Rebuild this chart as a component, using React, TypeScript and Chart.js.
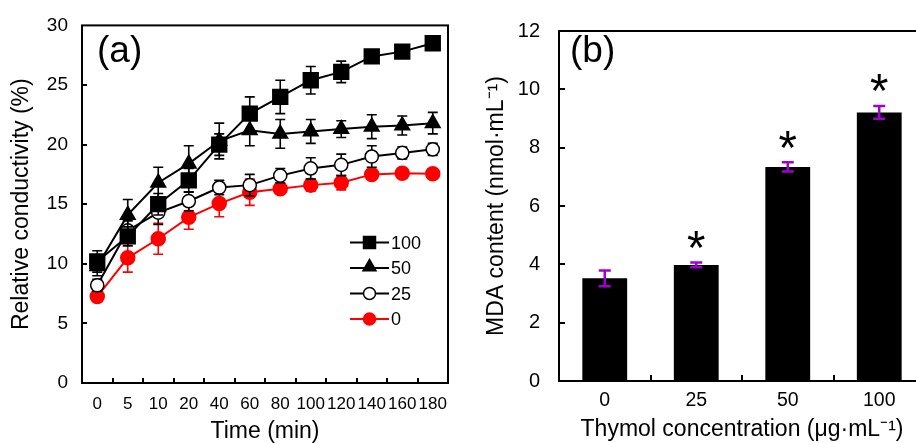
import React, { useEffect, useRef } from 'react';
import { Chart, registerables } from 'chart.js';

Chart.register(...registerables);

const FONT = "'Liberation Sans', Arial, Helvetica, sans-serif";

// ---------- Panel (a) data ----------
const timeLabels = ['0', '5', '10', '20', '40', '60', '80', '100', '120', '140', '160', '180'];
const cond100 = [10.2, 12.3, 15.0, 17.0, 20.0, 22.6, 24.0, 25.4, 26.1, 27.4, 27.8, 28.5];
const err100 = [0.9, 0.8, 0.9, 1.0, 0.9, 1.4, 1.4, 1.15, 0.9, 0.4, 0.4, 0.3];
const cond50 = [9.8, 14.1, 16.8, 18.4, 20.3, 21.2, 20.9, 21.1, 21.3, 21.5, 21.6, 21.8];
const err50 = [0.8, 1.3, 1.3, 1.5, 1.5, 1.3, 1.2, 1.0, 0.7, 1.0, 0.8, 0.9];
const cond25 = [8.2, 12.8, 14.3, 15.25, 16.4, 16.6, 17.4, 18.0, 18.3, 19.0, 19.3, 19.6];
const err25 = [0.5, 0.8, 1.0, 0.8, 0.6, 0.9, 0.6, 0.9, 0.9, 0.9, 0.5, 0.5];
const cond0 = [7.25, 10.5, 12.1, 13.9, 15.05, 16.0, 16.3, 16.6, 16.8, 17.5, 17.6, 17.55];
const err0 = [0.4, 1.2, 1.3, 1.0, 1.1, 1.1, 0.4, 0.5, 0.6, 0.4, 0.4, 0.4];
const seriesNames = ['100', '50', '25', '0'];
const condTicksMax = 30;
const condTickStep = 5;

// ---------- Panel (b) data ----------
const doseLabels = ['0', '25', '50', '100'];
const mdaValues = [3.52, 3.98, 7.34, 9.21];
const mdaErrors = [0.27, 0.08, 0.16, 0.22];
const mdaSignif = ['', '*', '*', '*'];
const mdaTicksMax = 12;
const mdaTickStep = 2;

function drawMarker(ctx: CanvasRenderingContext2D, style: string, x: number, y: number, r: number, fill: string, stroke: string, lw: number) {
  ctx.beginPath();
  if (style === 'rect') {
    ctx.rect(x - r, y - r, 2 * r, 2 * r);
  } else if (style === 'triangle') {
    ctx.moveTo(x, y - r);
    ctx.lineTo(x + r * 0.866, y + r * 0.5);
    ctx.lineTo(x - r * 0.866, y + r * 0.5);
    ctx.closePath();
  } else {
    ctx.arc(x, y, r, 0, Math.PI * 2);
  }
  ctx.fillStyle = fill;
  ctx.fill();
  ctx.lineWidth = lw;
  ctx.strokeStyle = stroke;
  ctx.stroke();
}

function drawCenteredText(ctx: CanvasRenderingContext2D, text: string, x: number, cy: number, align: CanvasTextAlign) {
  ctx.textAlign = align;
  ctx.textBaseline = 'alphabetic';
  const m = ctx.measureText(text);
  const base = cy + (m.actualBoundingBoxAscent - m.actualBoundingBoxDescent) / 2;
  ctx.fillText(text, x, base);
}

function frameAndTicks(tickLen: number) {
  return {
    id: 'frameAndTicks',
    afterDatasetsDraw(chart: any) {
      const { ctx, chartArea } = chart;
      const xs = chart.scales.x;
      const ys = chart.scales.y;
      ctx.save();
      ctx.strokeStyle = '#000';
      ctx.lineWidth = 2;
      ctx.lineCap = 'butt';
      ys.ticks.forEach((t: any, i: number) => {
        if (i === 0 || i === ys.ticks.length - 1) return;
        const py = Math.round(ys.getPixelForValue(t.value));
        ctx.beginPath();
        ctx.moveTo(chartArea.left, py);
        ctx.lineTo(chartArea.left + tickLen, py);
        ctx.stroke();
      });
      const n = xs.getLabels().length;
      for (let i = 0; i < n - 1; i++) {
        const px = Math.round((xs.getPixelForValue(i) + xs.getPixelForValue(i + 1)) / 2);
        ctx.beginPath();
        ctx.moveTo(px, chartArea.bottom);
        ctx.lineTo(px, chartArea.bottom - tickLen);
        ctx.stroke();
      }
      ctx.strokeRect(chartArea.left, chartArea.top, chartArea.right - chartArea.left, chartArea.bottom - chartArea.top);
      ctx.restore();
    },
  };
}

function panelLabel(text: string, dx: number, cy: number, size: number) {
  return {
    id: 'panelLabel',
    afterDraw(chart: any) {
      const { ctx, chartArea } = chart;
      ctx.save();
      ctx.fillStyle = '#000';
      ctx.font = `${size}px ${FONT}`;
      drawCenteredText(ctx, text, chartArea.left + dx, cy, 'left');
      ctx.restore();
    },
  };
}

const lineErrorBars = {
  id: 'lineErrorBars',
  beforeDatasetDraw(chart: any, args: any) {
    const ds = chart.data.datasets[args.index];
    const errs: number[] = ds.errors;
    if (!errs) return;
    const { ctx } = chart;
    const ys = chart.scales.y;
    ctx.save();
    ctx.strokeStyle = ds.borderColor;
    ctx.lineWidth = 1.6;
    args.meta.data.forEach((pt: any, i: number) => {
      const v = ds.data[i];
      const e = errs[i];
      const x = pt.x;
      const yt = ys.getPixelForValue(v + e);
      const yb = ys.getPixelForValue(v - e);
      ctx.beginPath();
      ctx.moveTo(x, yt);
      ctx.lineTo(x, yb);
      ctx.moveTo(x - 5, yt);
      ctx.lineTo(x + 5, yt);
      ctx.moveTo(x - 5, yb);
      ctx.lineTo(x + 5, yb);
      ctx.stroke();
    });
    ctx.restore();
  },
};

const lineLegend = {
  id: 'lineLegend',
  afterDraw(chart: any) {
    const { ctx, chartArea } = chart;
    const x0 = chartArea.left + 268;
    const y0 = chartArea.top + 217;
    const gap = 25.5;
    ctx.save();
    chart.data.datasets.forEach((ds: any, i: number) => {
      const y = y0 + i * gap;
      ctx.strokeStyle = ds.borderColor;
      ctx.lineWidth = 2;
      ctx.beginPath();
      ctx.moveTo(x0, y);
      ctx.lineTo(x0 + 39, y);
      ctx.stroke();
      const st = ds.pointStyle;
      const r = st === 'rect' ? 6 : st === 'triangle' ? 7.5 : 6;
      const cy = st === 'triangle' ? y - 1 : y;
      drawMarker(ctx, st, x0 + 19.5, cy, r, ds.pointBackgroundColor, ds.borderColor, 1.5);
      ctx.fillStyle = '#000';
      ctx.font = `18px ${FONT}`;
      drawCenteredText(ctx, ds.label, x0 + 41, y, 'left');
    });
    ctx.restore();
  },
};

const barExtras = {
  id: 'barExtras',
  afterDatasetsDraw(chart: any) {
    const { ctx } = chart;
    const ys = chart.scales.y;
    const meta = chart.getDatasetMeta(0);
    const ds = chart.data.datasets[0];
    ctx.save();
    ctx.font = `100px ${FONT}`;
    const m = ctx.measureText('*');
    const w = m.actualBoundingBoxLeft + m.actualBoundingBoxRight;
    const starSize = 100 * 17.5 / (w || 30);
    meta.data.forEach((bar: any, i: number) => {
      const v = ds.data[i];
      const e = ds.errors[i];
      const x = bar.x;
      const yt = ys.getPixelForValue(v + e);
      const yb = ys.getPixelForValue(v - e);
      ctx.strokeStyle = '#a000d0';
      ctx.lineWidth = 2.5;
      ctx.beginPath();
      ctx.moveTo(x, yt);
      ctx.lineTo(x, yb);
      ctx.moveTo(x - 6, yt);
      ctx.lineTo(x + 6, yt);
      ctx.moveTo(x - 6, yb);
      ctx.lineTo(x + 6, yb);
      ctx.stroke();
      const s = ds.signif[i];
      if (s) {
        ctx.fillStyle = '#000';
        ctx.font = `${starSize}px ${FONT}`;
        drawCenteredText(ctx, s, x, yt - 23, 'center');
      }
    });
    ctx.restore();
  },
};

function makeLineChart(canvas: HTMLCanvasElement) {
  const mk = (label: string, data: number[], errors: number[], color: string, style: string, radius: number, fill: string) => ({
    label,
    data,
    errors,
    borderColor: color,
    backgroundColor: fill,
    borderWidth: 2,
    pointStyle: style,
    pointRadius: radius,
    pointHoverRadius: radius,
    pointBackgroundColor: fill,
    pointBorderColor: color,
    pointBorderWidth: 1.5,
    tension: 0,
    fill: false,
  });
  return new Chart(canvas, {
    type: 'line',
    data: {
      labels: timeLabels,
      datasets: [
        mk(seriesNames[0], cond100, err100, '#000', 'rect', 10.5, '#000'),
        mk(seriesNames[1], cond50, err50, '#000', 'triangle', 8.5, '#000'),
        mk(seriesNames[2], cond25, err25, '#000', 'circle', 6.6, '#fff'),
        mk(seriesNames[3], cond0, err0, '#ff0000', 'circle', 7, '#ff0000'),
      ] as any,
    },
    options: {
      animation: false,
      responsive: false,
      devicePixelRatio: 1,
      layout: { padding: { left: 0, top: 23, right: 10, bottom: 0 } },
      plugins: { legend: { display: false }, tooltip: { enabled: false } },
      scales: {
        x: {
          type: 'category',
          offset: true,
          grid: { display: false, drawTicks: false },
          border: { display: false },
          ticks: { color: '#000', font: { family: FONT, size: 17 }, padding: 11, maxRotation: 0, autoSkip: false },
          title: { display: true, text: 'Time (min)', color: '#000', font: { family: FONT, size: 23, lineHeight: 1 }, padding: 0 },
          afterFit: (s: any) => { s.height = 60; },
        },
        y: {
          min: 0,
          max: condTicksMax,
          grid: { display: false, drawTicks: false },
          border: { display: false },
          ticks: { stepSize: condTickStep, color: '#000', font: { family: FONT, size: 19 }, padding: 14 },
          title: { display: true, text: 'Relative conductivity (%)', color: '#000', font: { family: FONT, size: 23, lineHeight: 1 }, padding: { top: 10, bottom: 0 } },
          afterFit: (s: any) => { s.width = 82; },
        },
      },
    } as any,
    plugins: [lineErrorBars, frameAndTicks(5), lineLegend, panelLabel('(a)', 15, 52.5, 37)],
  });
}

function makeBarChart(canvas: HTMLCanvasElement) {
  return new Chart(canvas, {
    type: 'bar',
    data: {
      labels: doseLabels,
      datasets: [
        {
          label: 'MDA',
          data: mdaValues,
          errors: mdaErrors,
          signif: mdaSignif,
          backgroundColor: '#000',
          borderWidth: 0,
          categoryPercentage: 1,
          barPercentage: 0.49,
        } as any,
      ],
    },
    options: {
      animation: false,
      responsive: false,
      devicePixelRatio: 1,
      layout: { padding: { left: 0, top: 23, right: 10, bottom: 0 } },
      plugins: { legend: { display: false }, tooltip: { enabled: false } },
      scales: {
        x: {
          type: 'category',
          offset: true,
          grid: { display: false, drawTicks: false },
          border: { display: false },
          ticks: { color: '#000', font: { family: FONT, size: 19.5 }, padding: 8, maxRotation: 0, autoSkip: false },
          title: { display: true, text: 'Thymol concentration (μg·mL⁻¹)', color: '#000', font: { family: FONT, size: 23, lineHeight: 1 }, padding: { top: 0, bottom: 1.5 } },
          afterFit: (s: any) => { s.height = 62; },
        },
        y: {
          min: 0,
          max: mdaTicksMax,
          grid: { display: false, drawTicks: false },
          border: { display: false },
          ticks: { stepSize: mdaTickStep, color: '#000', font: { family: FONT, size: 20 }, padding: 19 },
          title: { display: true, text: 'MDA content (nmol·mL⁻¹)', color: '#000', font: { family: FONT, size: 23, lineHeight: 1 }, padding: { top: 25, bottom: 0 } },
          afterFit: (s: any) => { s.width = 99; },
        },
      },
    } as any,
    plugins: [barExtras, frameAndTicks(6), panelLabel('(b)', 11, 52.5, 37)],
  });
}

export default function App() {
  const refA = useRef<HTMLCanvasElement | null>(null);
  const refB = useRef<HTMLCanvasElement | null>(null);
  useEffect(() => {
    const a = refA.current ? makeLineChart(refA.current) : null;
    const b = refB.current ? makeBarChart(refB.current) : null;
    return () => {
      if (a) a.destroy();
      if (b) b.destroy();
    };
  }, []);
  return (
    <div style={{ position: 'absolute', left: 0, top: 0, width: 916, height: 443, background: '#fff', overflow: 'hidden' }}>
      <canvas ref={refA} width={460} height={443} style={{ position: 'absolute', left: 0, top: 0 }} />
      <div style={{ position: 'absolute', left: 460, top: 0, width: 456, height: 443, overflow: 'hidden' }}>
        <canvas ref={refB} width={475} height={443} style={{ position: 'absolute', left: 0, top: 0 }} />
      </div>
    </div>
  );
}
